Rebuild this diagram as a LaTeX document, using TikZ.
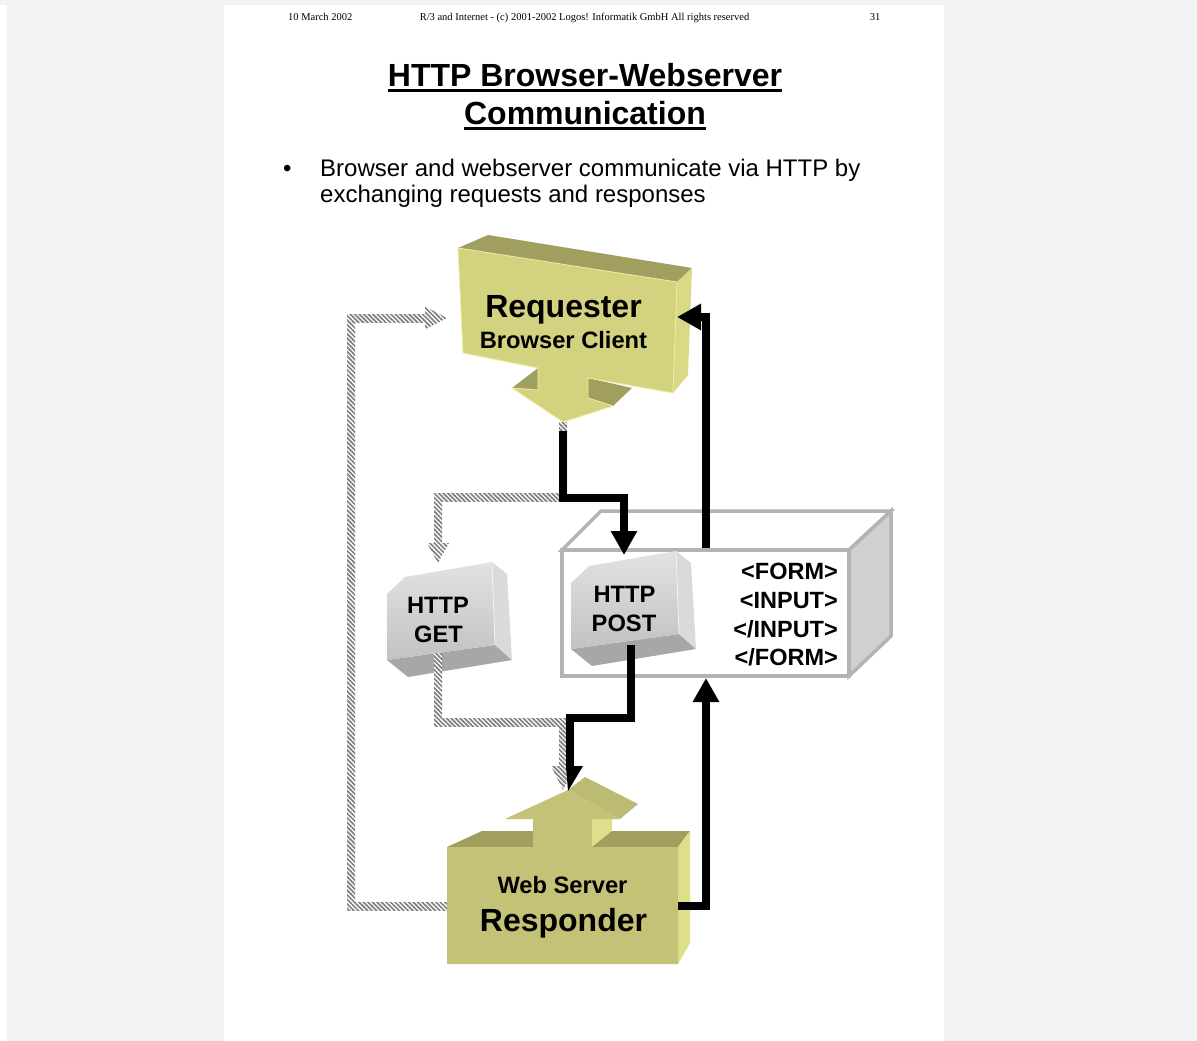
\documentclass[tikz,border=0pt]{standalone}
\usepackage{fontspec}
\setmainfont{Liberation Sans}
\newfontfamily\hdrfont{Liberation Serif}
\usetikzlibrary{arrows.meta,patterns.meta,calc}

\definecolor{pagegrey}{HTML}{F2F2F2}
\definecolor{reqfront}{HTML}{D3D27E}
\definecolor{reqtop}{HTML}{A09F60}
\definecolor{reqside}{HTML}{DAD986}
\definecolor{reqedge}{HTML}{EEEDA0}
\definecolor{respfront}{HTML}{C4C277}
\definecolor{resptop}{HTML}{A09F60}
\definecolor{resphead}{HTML}{BCBB73}
\definecolor{respside}{HTML}{DFDE8A}
\definecolor{keylight}{HTML}{E2E2E2}
\definecolor{keydark}{HTML}{C2C2C2}
\definecolor{keyside}{HTML}{DADADA}
\definecolor{keybottom}{HTML}{A7A7A7}
\definecolor{formedge}{HTML}{B3B3B3}
\definecolor{formside}{HTML}{D0D0D0}
\definecolor{hatchgrey}{HTML}{808080}

\tikzset{
  blk/.style={line width=8pt, draw=black, line join=miter},
  blkarrow/.style={blk, -{Triangle[length=24pt,width=25pt]}},
  hatch/.style={preaction={fill=white}, pattern={Lines[angle=-45,distance=3.2pt,line width=1.7pt]}, pattern color=hatchgrey},
  hdr/.style={inner sep=0pt, anchor=base, font=\hdrfont\fontsize{10.5}{12}\selectfont},
  title/.style={inner sep=0pt, anchor=base, font=\bfseries\fontsize{32}{38}\selectfont},
  body/.style={inner sep=0pt, anchor=base west, font=\fontsize{24}{26}\selectfont},
  biglbl/.style={inner sep=0pt, anchor=base, font=\bfseries\fontsize{32}{36}\selectfont},
  lbl/.style={inner sep=0pt, anchor=base, font=\bfseries\fontsize{23.7}{28}\selectfont},
  tag/.style={inner sep=0pt, anchor=base east, font=\bfseries\fontsize{23.5}{28}\selectfont},
  keybox/.pic={
    \fill[keybottom] (1,100) -- (109,85) -- (126,100) -- (22,117) -- cycle;
    \fill[keyside] (106,2) -- (121,14) -- (126,100) -- (109,85) -- cycle;
    \shade[top color=keylight, bottom color=keydark] (1,34) -- (19,17) -- (106,2) -- (109,85) -- (1,100) -- cycle;
    \draw[white!92!gray, line width=0.7pt] (106,2) -- (109,85);
  }
}
% one straight leg of a hatched connector, from its top/left end to its bottom/right end
\newcommand\hatchbar[2]{\path[hatch] ($#1+(-4,-4)$) rectangle ($#2+(4,4)$);}

\begin{document}
\begin{tikzpicture}[x=1pt,y=-1pt]
\useasboundingbox (0,0) rectangle (1197,1041);
\fill[pagegrey] (0,0) rectangle (1197,1041);
\fill[white] (0,5) rectangle (7,1041);
\fill[white] (224,5) rectangle (944,1041);

% page header
\node[hdr, anchor=base west] (date) at (288,21) {10 March 2002};
\node[hdr] (rights) at (584.5,21) {R/3 and Internet - (c) 2001-2002 Logos! Informatik GmbH All rights reserved};
\node[hdr] (pageno) at (875,21) {31};

% title
\node[title] (t1) at (585,86) {HTTP Browser-Webserver};
\node[title] (t2) at (585,124) {Communication};
\draw[line width=2.4pt] ([yshift=-4.5pt]t1.base west) -- ([yshift=-4.5pt]t1.base east);
\draw[line width=2.4pt] ([yshift=-4.5pt]t2.base west) -- ([yshift=-4.5pt]t2.base east);

% bullet
\node[body] (dot) at (283,176) {•};
\node[body] (b1) at (320,176) {Browser and webserver communicate via HTTP by};
\node[body] (b2) at (320,202) {exchanging requests and responses};

% form page box
\begin{scope}[draw=formedge, line width=3.5pt, line join=miter]
  \filldraw[fill=white] (601,511) -- (891,511) -- (849,550) -- (562,550) -- cycle;
  \filldraw[fill=formside] (849,550) -- (891,511) -- (891,636) -- (849,676) -- cycle;
  \filldraw[fill=white] (562,550) rectangle (849,676);
\end{scope}
\node[tag] (f1) at (838,579) {<FORM>};
\node[tag] (f2) at (838,608) {<INPUT>};
\node[tag] (f3) at (838,637) {</INPUT>};
\node[tag] (f4) at (838,665) {</FORM>};

% request keys
\pic at (386,560) {keybox};
\node[lbl] (getA) at (438,613) {HTTP};
\node[lbl] (getB) at (438.5,642) {GET};
\pic at (570,549) {keybox};
\node[lbl] (postA) at (624.5,602) {HTTP};
\node[lbl] (postB) at (624,631) {POST};

% requester block with downward arrow
\fill[reqtop] (458,248) -- (488,235) -- (692,268) -- (677,282) -- cycle;
\fill[reqside] (677,282) -- (692,268) -- (688,375) -- (673,393) -- cycle;
\fill[reqtop] (512,388) -- (538,368) -- (538,390) -- cycle;
\fill[reqtop] (588,378) -- (632,388) -- (613,406) -- (588,398) -- cycle;
\filldraw[fill=reqfront, draw=reqedge, line width=0.8pt]
  (458,248) -- (677,282) -- (673,393) -- (588,378) -- (588,398) -- (613,406)
  -- (563,422) -- (512,388) -- (538,390) -- (538,368) -- (463,353) -- cycle;
\node[biglbl] (reqA) at (563.5,317) {Requester};
\node[lbl] (reqB) at (563.5,348) {Browser Client};

% responder block with upward arrow
\fill[resptop] (447,847) -- (482,831) -- (533,831) -- (533,847) -- cycle;
\fill[respside] (592,819) -- (612,819) -- (612,831) -- (592,847) -- cycle;
\fill[resptop] (592,847) -- (612,831) -- (690,831) -- (678,847) -- cycle;
\fill[resphead] (568,790) -- (585,777) -- (638,804) -- (620,819) -- cycle;
\fill[respside] (678,847) -- (690,831) -- (690,943) -- (678,964) -- cycle;
\fill[respfront] (447,847) -- (533,847) -- (533,819) -- (505,819) -- (568,790)
  -- (620,819) -- (592,819) -- (592,847) -- (678,847) -- (678,964) -- (447,964) -- cycle;
\node[lbl] (respA) at (562.5,893) {Web Server};
\node[biglbl] (respB) at (563.5,931) {Responder};

% connector end points
\coordinate (reqOutG) at (563,426);
\coordinate (reqOut) at (563,431);
\coordinate (postIn) at (624,555);
\coordinate (getBendA) at (563,497);
\coordinate (getBendB) at (438,497);
\coordinate (getHead) at (438,543);
\coordinate (getIn) at (438,563);
\coordinate (getOut) at (438,657);
\coordinate (getBendC) at (438,722);
\coordinate (getBendD) at (563,722);
\coordinate (respHeadG) at (563,766);
\coordinate (respInG) at (563,790);
\coordinate (respOutG) at (443,906);
\coordinate (backBendA) at (351,906);
\coordinate (backBendB) at (351,318);
\coordinate (reqHeadG) at (425,318);
\coordinate (reqInG) at (447,318);
\coordinate (formTop) at (706,548);
\coordinate (reqIn) at (677,317);
\coordinate (respOut) at (678,906);
\coordinate (formIn) at (706,678);
\coordinate (postOut) at (631,645);
\coordinate (respIn) at (570,768);

% hatched connectors
\hatchbar{(reqOutG)}{(getBendA)}
\hatchbar{(getBendB)}{(getBendA)}
\hatchbar{(getBendB)}{(getHead)}
\path[hatch] ($(getHead)+(-11,0)$) -- ($(getHead)+(11,0)$) -- (getIn) -- cycle;

\hatchbar{(getOut)}{(getBendC)}
\hatchbar{(getBendC)}{(getBendD)}
\hatchbar{(getBendD)}{(respHeadG)}
\path[hatch] ($(respHeadG)+(-12,0)$) -- ($(respHeadG)+(12,0)$) -- (respInG) -- cycle;

\hatchbar{(backBendA)}{(respOutG)}
\hatchbar{(backBendB)}{(backBendA)}
\hatchbar{(backBendB)}{(reqHeadG)}
\path[hatch] ($(reqHeadG)+(0,-11.5)$) -- ($(reqHeadG)+(0,11.5)$) -- (reqInG) -- cycle;

% solid connectors
\draw[blkarrow] (reqOut) -- ++(0,67) -| (postIn);
\draw[blkarrow] (formTop) |- (reqIn);
\draw[blkarrow] (respOut) -| (formIn);
\draw[blk] (postOut) -- ++(0,73) -| (respIn);
\fill ($(respIn)+(-4,-2)$) -- ($(respIn)+(13,-2)$) -- ($(respIn)+(-2,23)$) -- cycle;
\end{tikzpicture}
\end{document}
